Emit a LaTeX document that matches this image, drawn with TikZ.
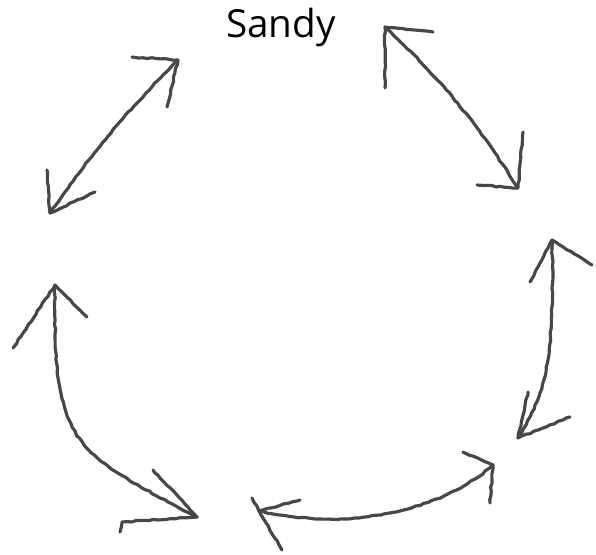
\documentclass[tikz,border=0pt]{standalone}
\usepackage{fontspec}
\setmainfont{Open Sans}
\usetikzlibrary{calc}
\usetikzlibrary{decorations.pathmorphing}

\tikzset{
	sketch/.style={draw=black!72, line width=1.8pt, line cap=round, line join=round,
		decorate, decoration={random steps, segment length=2.5pt, amplitude=0.35pt}},
}

\begin{document}
\begin{tikzpicture}[x=0.02cm, y=0.02cm]
		\pgfmathsetseed{4}
		\useasboundingbox (0,0) rectangle (596,-555);

		% arrow tips, going round
		\coordinate(A1a) at (50,-213);
		\coordinate(A1b) at (178,-60);
		\coordinate(A2a) at (385,-27);
		\coordinate(A2b) at (518,-188);
		\coordinate(A3a) at (552,-240);
		\coordinate(A3b) at (518,-438);
		\coordinate(A4a) at (259,-511);
		\coordinate(A4b) at (493,-465);
		\coordinate(A5a) at (55,-285);
		\coordinate(A5b) at (197,-517);

		\node (sandy) at (281,-37) [anchor=base, font=\fontsize{22}{24}\selectfont] {Sandy};

		% shafts
		\draw[sketch] (A1a) to[bend left=5] (A1b);
		\draw[sketch] (A2a) to[bend left=7] (A2b);
		\draw[sketch] (A3a) .. controls (555,-360) and (545,-395) .. (A3b);
		\draw[sketch] (A4a) .. controls (330,-528) and (430,-520) .. (A4b);
		\draw[sketch] (A5a) .. controls (53,-445) and (70,-450) .. (A5b);

		% heads
		\draw[sketch] (A1a) -- ++(-3,43) (A1a) -- ++(45,21);
		\draw[sketch] (A1b) -- ++(-46,3) (A1b) -- ++(-11,-47);
		\draw[sketch] (A2a) -- ++(48,-5) (A2a) -- ++(0,-61);
		\draw[sketch] (A2b) -- ++(5,56) (A2b) -- ++(-41,3);
		\draw[sketch] (A3a) -- ++(-22,-42) (A3a) -- ++(40,-25);
		\draw[sketch] (A3b) -- ++(10,46) (A3b) -- ++(52,21);
		\draw[sketch] (A4a) -- ++(41,11) (A4a) ++(-7,13) -- (A4a) -- ++(23,-39);
		\draw[sketch] (A4b) -- ++(-30,13) (A4b) -- ++(-3,-38);
		\draw[sketch] (A5a) -- ++(-42,-63) (A5a) -- ++(32,-32);
		\draw[sketch] (A5b) -- ++(-44,47) (A5b) -- ++(-75,-5) -- ++(-2,-10);

\end{tikzpicture}
\end{document}
